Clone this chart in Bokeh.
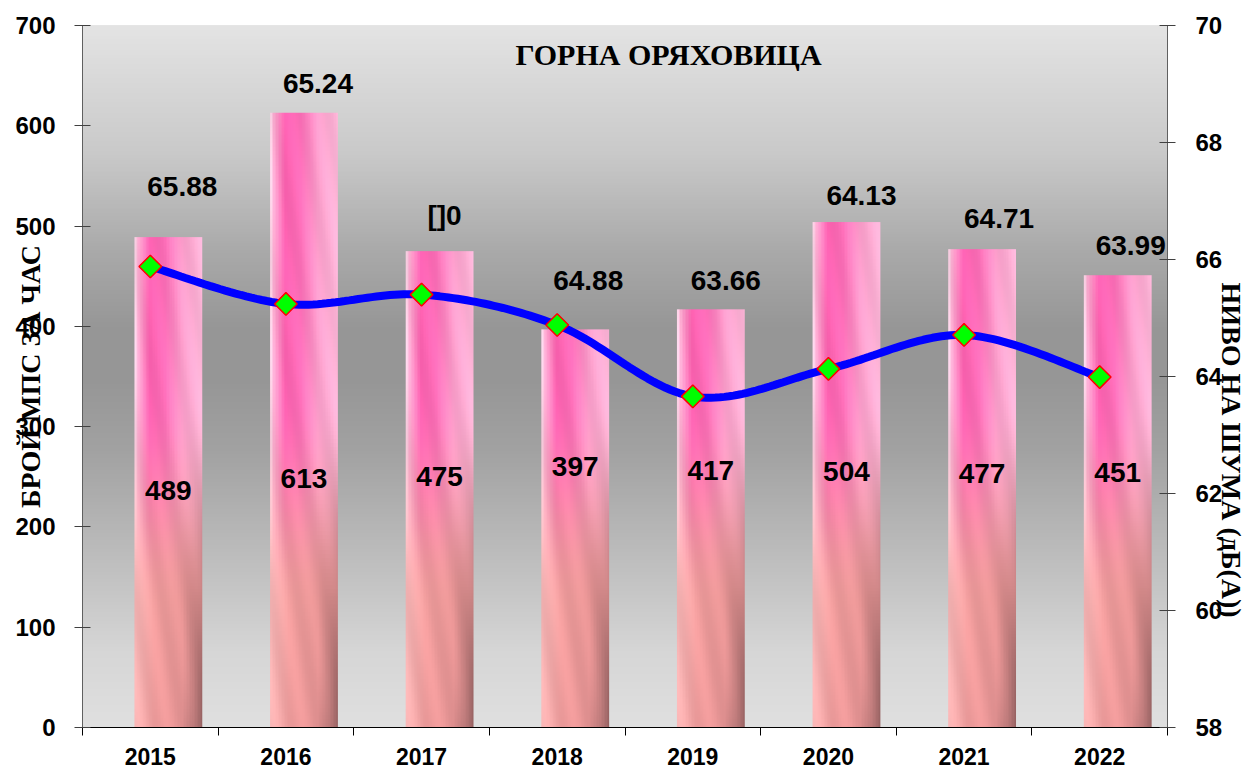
import numpy as np
from bokeh.plotting import figure
from bokeh.models import Range1d, LinearAxis, FixedTicker, Label, Title, ColumnDataSource
from bokeh.core.properties import value
from bokeh.embed import file_html
from bokeh.resources import INLINE

# ---------------- data ----------------
years = ["2015", "2016", "2017", "2018", "2019", "2020", "2021", "2022"]
vehicles = [489, 613, 475, 397, 417, 504, 477, 451]
noise = [65.88, 65.24, 65.40, 64.88, 63.66, 64.13, 64.71, 63.99]
noise_labels = ["65.88", "65.24", "[]0", "64.88", "63.66", "64.13", "64.71", "63.99"]
vehicle_labels = [str(v) for v in vehicles]
left_ticks = [0, 100, 200, 300, 400, 500, 600, 700]
right_ticks = [58, 60, 62, 64, 66, 68, 70]
title_text = "ГОРНА ОРЯХОВИЦА"
left_title = "БРОЙ МПС ЗА ЧАС"
right_title = "НИВО НА ШУМА (дБ(А))"

# ---------------- styling ----------------
noise_label_lift_px = [51, 29, 36, 49, 29, 27, 31, 30]
noise_label_shift_px = [32, 32, 23, 31, 33, 33, 35, 31]
count_label_lift_px = [237, 249, 251, 261, 257, 256, 254, 255]
count_label_shift_px = 18
bar_shift = 0.133          # bars sit slightly right of the category centre
bar_width = 0.5
SANS = value("Liberation Sans")
SERIF = "Liberation Serif"

n = len(years)
xc = list(range(n))

p = figure(width=1248, height=771, x_range=Range1d(-0.5, n - 0.5), y_range=Range1d(0, 700),
           output_backend="svg", toolbar_location=None,
           min_border_left=82, min_border_right=81, min_border_top=25, min_border_bottom=44)
p.extra_y_ranges = {"noise": Range1d(58, 70)}
p.grid.visible = False
p.outline_line_color = None
p.border_fill_color = "white"
p.background_fill_color = "#d0d0d0"


def rgba_img(rgb):
    h, w, _ = rgb.shape
    img = np.empty((h, w), dtype=np.uint32)
    view = img.view(dtype=np.uint8).reshape((h, w, 4))
    view[:, :, 0] = np.clip(rgb[:, :, 0], 0, 255)
    view[:, :, 1] = np.clip(rgb[:, :, 1], 0, 255)
    view[:, :, 2] = np.clip(rgb[:, :, 2], 0, 255)
    view[:, :, 3] = 255
    return img


# ---- background vertical gradient (fraction from bottom -> gray level)
rows = 400
f = (np.arange(rows) + 0.5) / rows
stops_f = [0.0, 0.11, 0.25, 0.395, 0.49, 0.565, 0.68, 0.82, 1.0]
stops_g = [224, 214, 188, 162, 151, 150, 170, 202, 228]
g = np.interp(f, stops_f, stops_g)
bg = np.stack([g, g, g], axis=-1)[:, None, :].repeat(2, axis=1)
p.image_rgba(image=[rgba_img(bg)], x=-0.5, y=0, dw=n, dh=700)


# ---- textured bars
def bar_texture(val, nrows=160, ncols=44):
    u = (np.arange(ncols) + 0.5) / ncols
    yv = (np.arange(nrows) + 0.5) / nrows * val
    pu = [0.0, 0.05, 0.22, 0.45, 0.7, 1.0]
    pink = np.array([[255, 222, 238], [255, 175, 212], [255, 98, 178],
                     [255, 112, 186], [255, 160, 206], [255, 184, 218]], float)
    su = [0.0, 0.3, 0.7, 1.0]
    salmon = np.array([[248, 182, 182], [242, 158, 158], [230, 148, 148], [196, 128, 128]], float)
    pk = np.stack([np.interp(u, pu, pink[:, c]) for c in range(3)], axis=-1)
    sm = np.stack([np.interp(u, su, salmon[:, c]) for c in range(3)], axis=-1)
    t = np.clip((330 - yv) / 210.0, 0, 1)
    t = t * t * (3 - 2 * t)
    col = pk[None, :, :] * (1 - t[:, None, None]) + sm[None, :, :] * t[:, None, None]
    dk = np.clip((u - 0.7) / 0.3, 0, 1)[None, :] * np.clip((140 - yv) / 140.0, 0, 1)[:, None]
    col = col * (1 - 0.25 * dk[:, :, None])
    streak = 1 + 0.035 * np.sin(2 * np.pi * (2.5 * u[None, :] + yv[:, None] / 170.0))
    col = col * streak[:, :, None]
    return rgba_img(col)


for i, v in enumerate(vehicles):
    p.image_rgba(image=[bar_texture(v)], x=xc[i] + bar_shift - bar_width / 2, y=0,
                 dw=bar_width, dh=v)


# ---- smooth noise line (Catmull-Rom through the points)
def catmull_rom(xs, ys, steps=30):
    P = np.column_stack([xs, ys]).astype(float)
    P = np.vstack([P[0], P, P[-1]])
    out = []
    for k in range(1, len(P) - 2):
        p0, p1, p2, p3 = P[k - 1], P[k], P[k + 1], P[k + 2]
        for s in np.linspace(0, 1, steps, endpoint=False):
            s2, s3 = s * s, s * s * s
            out.append(0.5 * ((2 * p1) + (-p0 + p2) * s + (2 * p0 - 5 * p1 + 4 * p2 - p3) * s2
                              + (-p0 + 3 * p1 - 3 * p2 + p3) * s3))
    out.append(P[-2])
    out = np.array(out)
    return out[:, 0], out[:, 1]


lx, ly = catmull_rom(xc, noise)
p.line(lx, ly, line_color="#0000ff", line_width=8, y_range_name="noise")
p.scatter(xc, noise, marker="square", angle=np.pi / 4, size=16,
          fill_color="#00ff00", line_color="#ff0000", line_width=1.5, y_range_name="noise")

# ---- labels
src = ColumnDataSource(dict(x=xc, top=vehicles, zero=[0] * n, nl=noise_labels, vl=vehicle_labels,
                            off1=[-o for o in noise_label_lift_px],
                            xo1=noise_label_shift_px,
                            off2=[-o for o in count_label_lift_px]))
p.text(x="x", y="top", text="nl", x_offset="xo1", y_offset="off1", source=src,
       text_align="center", text_baseline="middle", text_font=SANS, text_font_style="bold",
       text_font_size="28px", text_color="black")
p.text(x="x", y="zero", text="vl", x_offset=count_label_shift_px, y_offset="off2", source=src,
       text_align="center", text_baseline="middle", text_font=SANS, text_font_style="bold",
       text_font_size="28px", text_color="black")


def style_tick_labels(ax, size):
    ax.major_label_text_font = "Liberation Sans"
    ax.major_label_text_font_style = "bold"
    ax.major_label_text_font_size = size
    ax.major_label_text_color = "black"


# ---- axes
ya = p.yaxis[0]
ya.ticker = FixedTicker(ticks=left_ticks)
ya.major_tick_in = 8
ya.major_tick_out = 8
ya.minor_tick_line_color = None
ya.axis_line_color = "#606060"
ya.major_tick_line_color = "#404040"
ya.major_label_standoff = 19
style_tick_labels(ya, "24px")

ra = LinearAxis(y_range_name="noise", ticker=FixedTicker(ticks=right_ticks))
ra.major_tick_in = 8
ra.major_tick_out = 8
ra.minor_tick_line_color = None
ra.axis_line_color = "#606060"
ra.major_tick_line_color = "#404040"
ra.major_label_standoff = 20
style_tick_labels(ra, "24px")
p.add_layout(ra, "right")

# left title: label of an otherwise empty axis, pulled in over the tick labels
lt = LinearAxis(ticker=FixedTicker(ticks=[]))
lt.axis_line_color = None
lt.major_tick_line_color = None
lt.minor_tick_line_color = None
lt.major_tick_out = 0
lt.major_tick_in = 0
lt.major_label_text_font_size = "1px"
lt.major_label_text_color = None
lt.axis_label = left_title
lt.axis_label_text_font = SERIF
lt.axis_label_text_font_style = "bold"
lt.axis_label_text_font_size = "28px"
lt.axis_label_text_color = "black"
lt.axis_label_standoff = -33
p.add_layout(lt, "left")

# right title: side Title, aligned to the top with an offset
rtitle = Title(text=right_title, align="left", vertical_align="middle", offset=257, standoff=-22,
               text_font=SERIF, text_font_style="bold", text_font_size="28px",
               text_color="black")
p.add_layout(rtitle, "right")

xa = p.xaxis[0]
xa.ticker = FixedTicker(ticks=xc, minor_ticks=[i - 0.5 for i in range(n + 1)])
xa.major_label_overrides = {i: years[i] for i in range(n)}
xa.major_tick_in = 0
xa.major_tick_out = 0
xa.major_tick_line_color = None
xa.minor_tick_in = 0
xa.minor_tick_out = 8
xa.minor_tick_line_color = "black"
xa.axis_line_color = "black"
xa.major_label_standoff = 12
style_tick_labels(xa, "23px")

p.add_layout(Label(x=586, y=673, x_units="screen", y_units="screen", text=title_text,
                   text_align="center", text_baseline="middle", text_font=SERIF,
                   text_font_style="bold", text_font_size="30px", text_color="black"))

open("out.html", "w").write(file_html(p, INLINE))
